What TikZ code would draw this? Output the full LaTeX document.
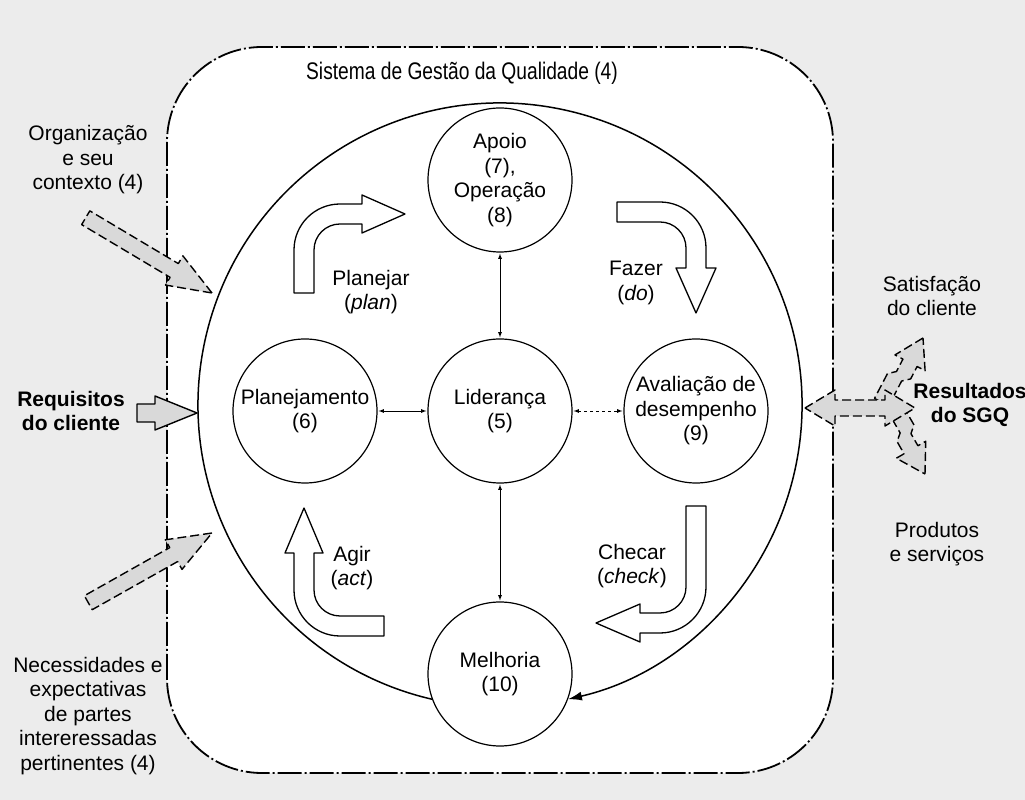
\documentclass[tikz,border=0pt]{standalone}
\usepackage{fontspec}
\setmainfont{Liberation Sans}
\usetikzlibrary{arrows.meta}
\newcommand\corpo{\fontsize{21}{24.5}\selectfont}

\tikzset{
  processo/.style={circle, draw, line width=1.2pt, minimum size=144pt, inner sep=0pt, align=center, fill=white},
  rotulo/.style={align=center},
  negrito/.style={align=center, font=\corpo\bfseries},
  sistema/.style={line width=1.8pt, dash pattern=on 24pt off 3pt on 2pt off 3pt, rounded corners=95pt},
  elo/.style={<->, line width=0.8pt, shorten >=1pt, shorten <=1pt},
  giro/.style={draw, line width=1.3pt, fill=white, line join=round},
  entra/.style={draw, line width=1.4pt, dash pattern=on 9pt off 4pt, fill=gray!30, line join=round},
  pics/entrada/.style={code={\path[entra] (0,0) -- (-44,17) -- (-44,8) -- (-#1,8) -- (-#1,-8) -- (-44,-8) -- (-44,-17) -- cycle;}},
  pics/ramo/.style={code={\path[entra] (0,0) -- (-28,17) -- (-28,8) -- (-42,8) -- (-48,15) -- (-#1,15) -- (-#1,-1) -- (-48,-1) -- (-42,-8) -- (-28,-8) -- (-28,-17) -- cycle;}},
}

\begin{document}
\begin{tikzpicture}[x=1pt, y=1pt, >=latex, every node/.append style={font=\corpo}]
  \useasboundingbox (0,0) rectangle (1025,800);
  \fill[gray!15] (0,0) rectangle (1025,800);
  \draw[sistema, fill=white] (167,27) rectangle (833,753);
  \node[font=\fontsize{24}{28}\selectfont] (titulo) at (462,727) {\scalebox{0.8}[1]{Sistema de Gestão da Qualidade (4)}};

  % grande ciclo
  \node[circle, minimum size=604pt, inner sep=0pt, outer sep=0pt] (ciclo) at (500,395) {};
  \draw[line width=1.5pt, -{Latex[length=14pt,width=9pt]}] (ciclo.257) arc[start angle=257, end angle=-77, radius=302];

  % PDCA
  \draw[giro] (294,507) -- (294,550) arc[start angle=180, end angle=90, radius=46] -- (362,596) -- (362,605) -- (405,586) -- (362,567) -- (362,576) -- (340,576) arc[start angle=90, end angle=180, radius=26] -- (314,507) -- cycle;
  \draw[giro] (617,598) -- (660,598) arc[start angle=90, end angle=0, radius=46] -- (706,532) -- (716,532) -- (696,487) -- (676,532) -- (686,532) -- (686,552) arc[start angle=0, end angle=90, radius=26] -- (617,578) -- cycle;
  \draw[giro] (686,294) -- (706,294) -- (706,213) arc[start angle=0, end angle=-90, radius=46] -- (640,167) -- (640,158) -- (596,177) -- (640,196) -- (640,187) -- (660,187) arc[start angle=-90, end angle=0, radius=26] -- cycle;
  \draw[giro] (384,184) -- (384,164) -- (340,164) arc[start angle=-90, end angle=-180, radius=46] -- (294,247) -- (285,247) -- (304,292) -- (323,247) -- (314,247) -- (314,210) arc[start angle=180, end angle=270, radius=26] -- cycle;

  \node[rotulo] (planejar) at (371,508) {Planejar\\(\textit{plan})};
  \node[rotulo] (fazer) at (636,517) {Fazer\\(\textit{do})};
  \node[rotulo] (checar) at (632,234) {Checar\\(\textit{check})};
  \node[rotulo] (agir) at (352,232) {Agir\\(\textit{act})};

  % processos
  \node[processo] (apoio) at (500,620) {Apoio\\(7),\\Operação\\(8)};
  \node[processo] (lideranca) at (500,389) {Liderança\\(5)};
  \node[processo] (planejamento) at (305,389) {Planejamento\\(6)};
  \node[processo] (avaliacao) at (696,389) {Avaliação de\\desempenho\\(9)};
  \node[processo] (melhoria) at (500,126) {Melhoria\\(10)};

  \draw[elo] (apoio) -- (lideranca);
  \draw[elo] (planejamento) -- (lideranca);
  \draw[elo, dashed] (lideranca) -- (avaliacao);
  \draw[elo] (lideranca) -- (melhoria);

  % entradas
  \node[rotulo] (organizacao) at (88,640) {Organização\\e seu\\contexto (4)};
  \pic[rotate=-30.8] at (212,507) {entrada=147};
  \node[negrito] (requisitos) at (71,389) {Requisitos\\do cliente};
  \draw[entra, solid] (197,387) -- (155,404) -- (155,396) -- (137,396) -- (137,378) -- (155,378) -- (155,370) -- cycle;
  \node[rotulo] (necessidades) at (88,84) {Necessidades e\\expectativas\\de partes\\intereressadas\\pertinentes (4)};
  \pic[rotate=29.4] at (212,267) {entrada=142};

  % saidas
  \pic[rotate=62.4] at (923,462) {ramo=76};
  \pic[rotate=-60] at (925,326) {ramo=74};
  \path[entra] (805,392) -- (835,410) -- (835,400) -- (885,400) -- (885,410) -- (915,392) -- (885,374) -- (885,384) -- (835,384) -- (835,374) -- cycle;
  \node[rotulo] (satisfacao) at (932,504) {Satisfação\\do cliente};
  \node[negrito] (resultados) at (970,395) {Resultados\\do SGQ};
  \node[rotulo] (produtos) at (937,256) {Produtos\\e serviços};
\end{tikzpicture}
\end{document}
